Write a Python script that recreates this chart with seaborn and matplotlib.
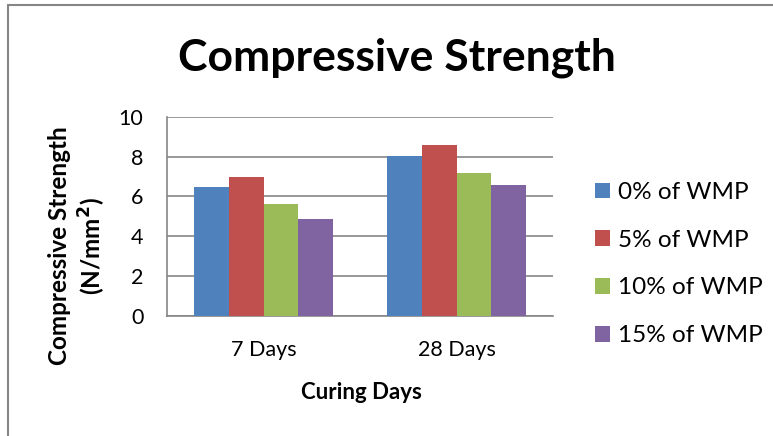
import matplotlib
matplotlib.use("Agg")
import matplotlib.pyplot as plt
import seaborn as sns
import pandas as pd
from matplotlib.patches import Rectangle

categories = ["7 Days", "28 Days"]
series = ["0% of WMP", "5% of WMP", "10% of WMP", "15% of WMP"]
values_0 = [6.45, 8.03]
values_5 = [6.97, 8.60]
values_10 = [5.60, 7.17]
values_15 = [4.87, 6.56]
colors = ["#4F81BD", "#C0504D", "#9BBB59", "#8064A2"]
yticks = [0, 2, 4, 6, 8, 10]

rows = []
for s, vals in zip(series, [values_0, values_5, values_10, values_15]):
    for c, v in zip(categories, vals):
        rows.append({"Curing Days": c, "Series": s, "Value": v})
df = pd.DataFrame(rows)

sns.set_theme(style="white")
FONT = "Lato"
plt.rcParams["font.family"] = [FONT, "DejaVu Sans"]
plt.rcParams["text.color"] = "black"

W, H = 773, 436
fig = plt.figure(figsize=(W / 100, H / 100), dpi=100)
ax = fig.add_axes([167 / W, 1 - 316 / H, (553 - 167) / W, (316 - 116.7) / H])

sns.barplot(data=df, x="Curing Days", y="Value", hue="Series", order=categories,
            hue_order=series, palette=colors, width=0.725, gap=0, ax=ax,
            saturation=1, edgecolor="none", legend=True, zorder=3)

ax.set_ylim(0, 10)
ax.set_yticks(yticks)
ax.set_xlim(-0.5, 1.5)
ax.grid(axis="y", color="#868686", linewidth=1.2, zorder=0)
ax.set_axisbelow(True)
for side in ["top", "right"]:
    ax.spines[side].set_visible(False)
for side in ["left", "bottom"]:
    ax.spines[side].set_color("#868686")
    ax.spines[side].set_linewidth(1.2)
ax.tick_params(axis="both", length=0, labelsize=15.5, colors="black", pad=17)
ax.set_xlabel("")
ax.set_ylabel("")

ax.legend(loc="upper left", bbox_to_anchor=(595 / W, 1 - 182 / H),
          bbox_transform=fig.transFigure, frameon=False, fontsize=17.5,
          labelspacing=1.1, handlelength=0.62, handleheight=0.62,
          handletextpad=0.33, borderpad=0, borderaxespad=0,
          labelcolor="black")

fig.text(397 / W, 1 - 58 / H, "Compressive Strength", ha="center", va="center",
         fontsize=32, fontweight="bold", color="black")
fig.text(361 / W, 1 - 392 / H, "Curing Days", ha="center", va="center",
         fontsize=16, fontweight="bold", color="black")
fig.text(78 / W, 1 - 246 / H, "Compressive Strength\n(N/mm$^\\mathbf{2}$)",
         ha="center", va="center", rotation=90, fontsize=17.5, fontweight="bold",
         linespacing=1.2, multialignment="center", color="black")

fig.patches.append(Rectangle((8 / W, -0.2), 1.5, 0.2 + (1 - 5 / H),
                             transform=fig.transFigure, fill=False,
                             edgecolor="#868686", linewidth=1.5))

fig.savefig("out.png", dpi=100)
